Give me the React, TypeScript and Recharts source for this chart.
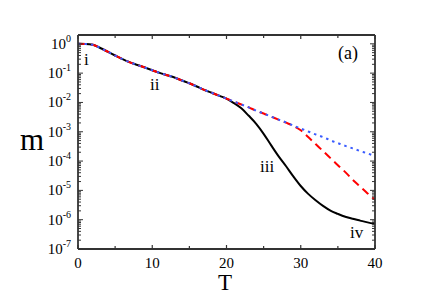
import React from "react";
import { LineChart, Line, XAxis, YAxis } from "recharts";

const T = [0,1,2,3,4,5,6,7,8,9,10,11,12,13,14,15,16,17,18,19,20,21,22,23,24,25,26,27,28,29,30,31,32,33,34,35,36,37,38,39,40];

const common = [1.0,0.99,0.93,0.72,0.54,0.40,0.30,0.234,0.19,0.155,0.126,0.102,0.085,0.071,0.056,0.045,0.035,0.027,0.0214,0.017,0.0135];

const blackTail = [9.5e-3,6.3e-3,3.5e-3,1.86e-3,8.5e-4,3.5e-4,1.48e-4,6.8e-5,3.0e-5,1.41e-5,7.6e-6,4.6e-6,2.95e-6,2.04e-6,1.58e-6,1.26e-6,1.07e-6,9.3e-7,8.1e-7,7.2e-7];
const blueTail = [0.0107,8.5e-3,6.8e-3,5.2e-3,4.2e-3,3.3e-3,2.6e-3,2.1e-3,1.62e-3,1.29e-3,1.02e-3,8.1e-4,6.6e-4,5.1e-4,4.1e-4,3.3e-4,2.7e-4,2.2e-4,1.82e-4,1.48e-4];
const redTail = [0.0107,8.5e-3,6.8e-3,5.2e-3,4.2e-3,3.3e-3,2.6e-3,2.04e-3,1.58e-3,1.12e-3,6.6e-4,3.8e-4,2.2e-4,1.26e-4,7.2e-5,4.2e-5,2.3e-5,1.35e-5,7.9e-6,4.8e-6];

const blackSeries = [...common, ...blackTail];
const redSeries = [...common, ...redTail];
const blueSeries = [...common, ...blueTail];

const xTicks = [0,5,10,15,20,25,30,35,40];
const xMajorLabels = ["0","10","20","30","40"];
const yDecades = [1,1e-1,1e-2,1e-3,1e-4,1e-5,1e-6,1e-7];
const yExpLabels = ["0","-1","-2","-3","-4","-5","-6","-7"];

const yTicks: number[] = [];
yDecades.forEach((d) => {
  yTicks.push(d);
  if (d < 1) {
    for (let k = 2; k <= 9; k++) yTicks.push(d * k);
  }
});

const data = T.map((t, i) => ({
  T: t,
  black: blackSeries[i],
  red: redSeries[i],
  blue: blueSeries[i],
}));

const FONT = "'Liberation Serif', 'Times New Roman', serif";
const AXIS = "#333333";

const decadeIndex = (v: number) =>
  yDecades.findIndex((d) => Math.abs(Math.log10(v) - Math.log10(d)) < 1e-6);

const BottomTick = (props: any) => {
  const { x, y, payload } = props;
  const v = payload.value;
  const label = xMajorLabels.indexOf(String(v));
  const major = label >= 0;
  return (
    <g>
      <line x1={x} x2={x} y1={y} y2={y - (major ? 4 : 3)} stroke={AXIS} strokeWidth={1.2} />
      {major && (
        <text x={x} y={y + 19} textAnchor="middle" fontFamily={FONT} fontSize={15} fill="#000">
          {v}
        </text>
      )}
    </g>
  );
};

const TopTick = (props: any) => {
  const { x, y, payload } = props;
  const major = xMajorLabels.indexOf(String(payload.value)) >= 0;
  return <line x1={x} x2={x} y1={y} y2={y + (major ? 4 : 3)} stroke={AXIS} strokeWidth={1.2} />;
};

const LeftTick = (props: any) => {
  const { x, y, payload } = props;
  const idx = decadeIndex(payload.value);
  const major = idx >= 0;
  return (
    <g>
      <line x1={x} x2={x + (major ? 5 : 3)} y1={y} y2={y} stroke={AXIS} strokeWidth={1} />
      {major && (
        <text x={x - 7} y={y + 5} textAnchor="end" fontFamily={FONT} fontSize={15} fill="#000">
          <tspan>10</tspan>
          <tspan dy={-7} fontSize={10}>{yExpLabels[idx]}</tspan>
        </text>
      )}
    </g>
  );
};

const RightTick = (props: any) => {
  const { x, y, payload } = props;
  const major = decadeIndex(payload.value) >= 0;
  return <line x1={x} x2={x - (major ? 5 : 3)} y1={y} y2={y} stroke={AXIS} strokeWidth={1} />;
};

export default function App() {
  return (
    <div style={{ position: "absolute", left: 0, top: 0, width: 436, height: 300, background: "#fff" }}>
      <LineChart
        width={436}
        height={300}
        data={data}
        margin={{ top: 34, right: 60, bottom: 0, left: 0 }}
      >
        <XAxis
          dataKey="T"
          type="number"
          domain={[0, 40]}
          ticks={xTicks}
          interval={0}
          height={51}
          tickSize={0}
          tickMargin={0}
          tickLine={false}
          tick={<BottomTick />}
          axisLine={{ stroke: AXIS, strokeWidth: 1.8 }}
          allowDataOverflow
        />
        <XAxis
          xAxisId="top"
          orientation="top"
          dataKey="T"
          type="number"
          domain={[0, 40]}
          ticks={xTicks}
          interval={0}
          height={1}
          tickSize={0}
          tickMargin={0}
          tickLine={false}
          tick={<TopTick />}
          axisLine={{ stroke: AXIS, strokeWidth: 1.8 }}
          allowDataOverflow
        />
        <YAxis
          type="number"
          scale="log"
          domain={[1e-7, 2]}
          ticks={yTicks}
          interval={0}
          width={78}
          tickSize={0}
          tickMargin={0}
          tickLine={false}
          tick={<LeftTick />}
          axisLine={{ stroke: AXIS, strokeWidth: 1.8 }}
          allowDataOverflow
        />
        <YAxis
          yAxisId="right"
          orientation="right"
          type="number"
          scale="log"
          domain={[1e-7, 2]}
          ticks={yTicks}
          interval={0}
          width={1}
          tickSize={0}
          tickMargin={0}
          tickLine={false}
          tick={<RightTick />}
          axisLine={{ stroke: AXIS, strokeWidth: 1.8 }}
          allowDataOverflow
        />
        <Line
          dataKey="black"
          type="monotone"
          stroke="#000000"
          strokeWidth={2}
          dot={false}
          isAnimationActive={false}
        />
        <Line
          dataKey="red"
          type="monotone"
          stroke="#ff0000"
          strokeWidth={2}
          strokeDasharray="8 5"
          dot={false}
          isAnimationActive={false}
        />
        <Line
          dataKey="blue"
          type="monotone"
          stroke="#3a5cff"
          strokeWidth={2}
          strokeDasharray="2.5 4"
          dot={false}
          isAnimationActive={false}
        />
      </LineChart>
      <svg
        width={436}
        height={300}
        style={{ position: "absolute", left: 0, top: 0, pointerEvents: "none" }}
      >
        <g fontFamily={FONT} fill="#000">
          <text x={20} y={150} fontSize={31}>m</text>
          <text x={218} y={290} fontSize={23}>T</text>
          <text x={338} y={59} fontSize={18}>(a)</text>
          <text x={84} y={65} fontSize={17}>i</text>
          <text x={150} y={90} fontSize={17}>ii</text>
          <text x={260} y={172} fontSize={17}>iii</text>
          <text x={350} y={238} fontSize={17}>iv</text>
        </g>
      </svg>
    </div>
  );
}
